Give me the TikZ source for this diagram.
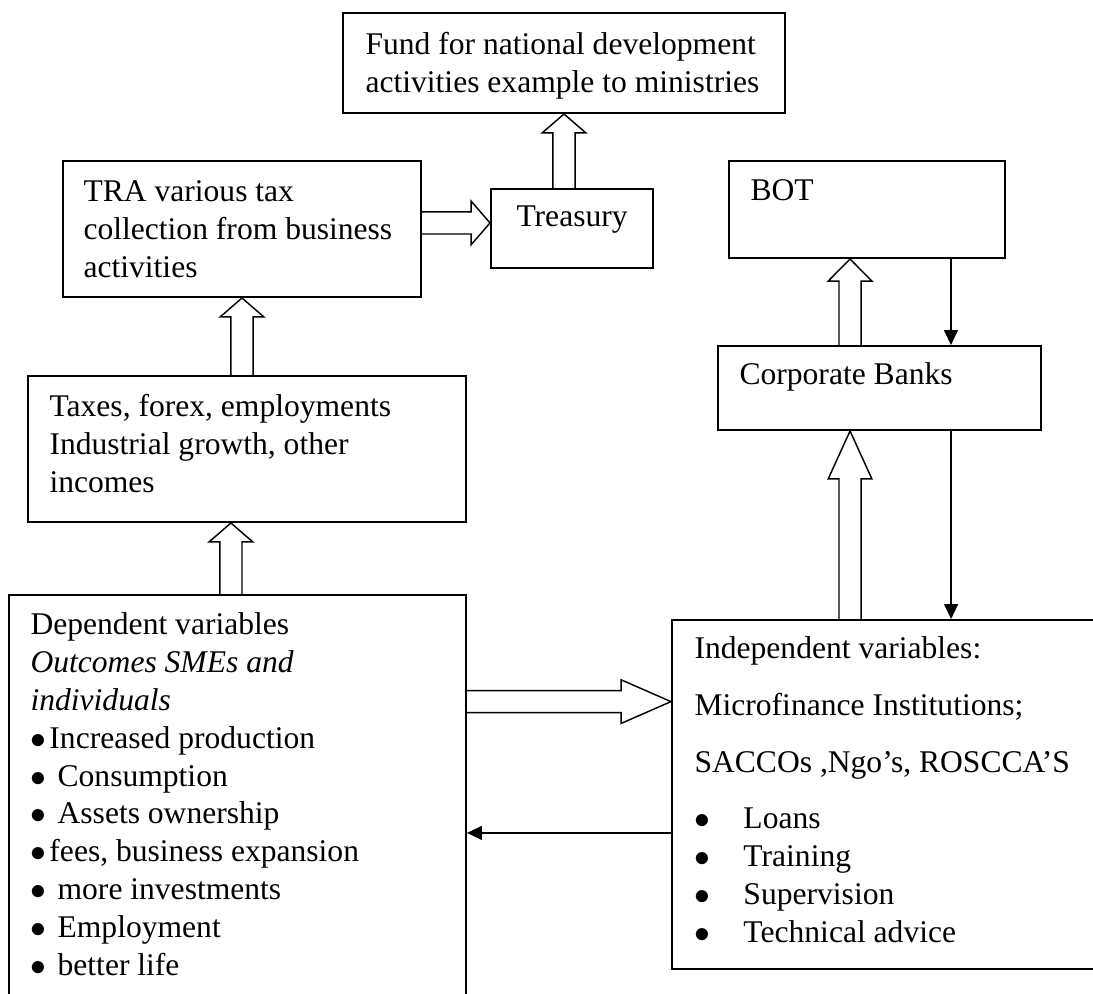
\documentclass[tikz,border=0pt]{standalone}
\usepackage{fontspec}
\setmainfont{Liberation Serif}
\usetikzlibrary{arrows.meta,calc,fit}

\newcommand{\bulnarrow}{\makebox[7.2pt][l]{$\bullet$}}
\newcommand{\bulwide}{\makebox[10.3pt][l]{$\bullet$}}
\newcommand{\bulfar}{\makebox[18.6pt][l]{$\bullet$}}

\begin{document}
\begin{tikzpicture}[x=0.38pt,y=-0.38pt]
\tikzset{
  boxnode/.style={draw=black,line width=0.75pt,inner sep=0pt},
  textnode/.style={inner sep=0pt,align=left,anchor=north west,font=\fontsize{12}{14.4}\selectfont},
  linenode/.style={inner sep=0pt,anchor=west,font=\fontsize{12}{14.4}\selectfont},
  thinarrow/.style={draw=black,line width=0.6pt,-{Triangle[length=5.7pt,width=5.3pt]}},
  fathead/.store in=\fathead, fathead=7.2pt,
  fatarrow/.style={draw=black,line width=0.55pt,line join=miter,
    to path={
      ($(\tikztostart)!4.2pt!90:(\tikztotarget)$)
      -- ($(\tikztotarget)!\fathead!(\tikztostart)!4.2pt!90:(\tikztotarget)$)
      -- ($(\tikztotarget)!\fathead!(\tikztostart)!8.3pt!90:(\tikztotarget)$)
      -- (\tikztotarget)
      -- ($(\tikztotarget)!\fathead!(\tikztostart)!8.3pt!-90:(\tikztotarget)$)
      -- ($(\tikztotarget)!\fathead!(\tikztostart)!4.2pt!-90:(\tikztotarget)$)
      -- ($(\tikztostart)!4.2pt!-90:(\tikztotarget)$)
    }}
}
\useasboundingbox (0,0) rectangle (1093,994);
\clip (0,0) rectangle (1093,994);

% boxes
\node[boxnode,fit={(343,13) (785,113)}] (n_fund) {};
\node[boxnode,fit={(63,161) (421,297)}] (n_tra) {};
\node[boxnode,fit={(491,189) (653,268)}] (n_treasury) {};
\node[boxnode,fit={(729,161) (1005,258)}] (n_bot) {};
\node[boxnode,fit={(718,346) (1041,430)}] (n_banks) {};
\node[boxnode,fit={(28,376) (466,522)}] (n_taxes) {};
\node[boxnode,fit={(9,595) (466,1010)}] (n_dep) {};
\node[boxnode,fit={(672,620) (1110,969)}] (n_indep) {};

% texts
\node[textnode] (n_fund_t) at (365,31.5) {Fund for national development\\activities example to ministries};
\node[textnode] (n_tra_t) at (83,180.5) {TRA various tax\\collection from business\\activities};
\node[linenode] (n_treasury_t) at (516,220) {Treasury};
\node[linenode] (n_bot_t) at (750,190) {BOT};
\node[linenode] (n_banks_t) at (739,377) {Corporate Banks};
\node[textnode] (n_taxes_t) at (49,393.5) {Taxes, forex, employments\\Industrial growth, other\\incomes};
\node[textnode] (n_dep_t) at (30,612) {Dependent variables\\
  \textit{Outcomes SMEs and}\\
  \textit{individuals}\\
  \bulnarrow Increased production\\
  \bulwide Consumption\\
  \bulwide Assets ownership\\
  \bulnarrow fees, business expansion\\
  \bulwide more investments\\
  \bulwide Employment\\
  \bulwide better life};
\node[textnode] (n_indep_t) at (694,636) {Independent variables:\\[7.2pt]
  Microfinance Institutions;\\[7.2pt]
  SACCOs ,Ngo’s, ROSCCA’S\\[7.2pt]
  \bulfar Loans\\
  \bulfar Training\\
  \bulfar Supervision\\
  \bulfar Technical advice};

% hollow arrows
\draw[fatarrow] (n_fund.south |- n_treasury.north) to (n_fund.south);
\draw[fatarrow] ([yshift=2.3pt]n_tra.east) to ([yshift=2.3pt]n_tra.east -| n_treasury.west);
\draw[fatarrow] (n_tra.south |- n_taxes.north) to (n_tra.south);
\draw[fatarrow] ([xshift=-2.5pt]n_dep.north) to ([xshift=-2.5pt]n_dep.north |- n_taxes.south);
\draw[fatarrow,fathead=19pt] ([yshift=35.3pt]n_indep.west -| n_dep.east) to ([yshift=35.3pt]n_indep.west);
\draw[fatarrow,fathead=18.2pt] ([xshift=-11.2pt]n_banks.south |- n_indep.north) to ([xshift=-11.2pt]n_banks.south);
\draw[fatarrow,fathead=8.4pt] ([xshift=-11.2pt]n_banks.north) to ([xshift=-11.2pt]n_banks.north |- n_bot.south);

% plain arrows
\draw[thinarrow] ([xshift=31.9pt]n_bot.south) -- ([xshift=31.9pt]n_bot.south |- n_banks.north);
\draw[thinarrow] ([xshift=27.2pt]n_banks.south) -- ([xshift=27.2pt]n_banks.south |- n_indep.north);
\draw[thinarrow] ([yshift=-14.6pt]n_indep.west) -- ([yshift=-14.6pt]n_indep.west -| n_dep.east);
\end{tikzpicture}
\end{document}
